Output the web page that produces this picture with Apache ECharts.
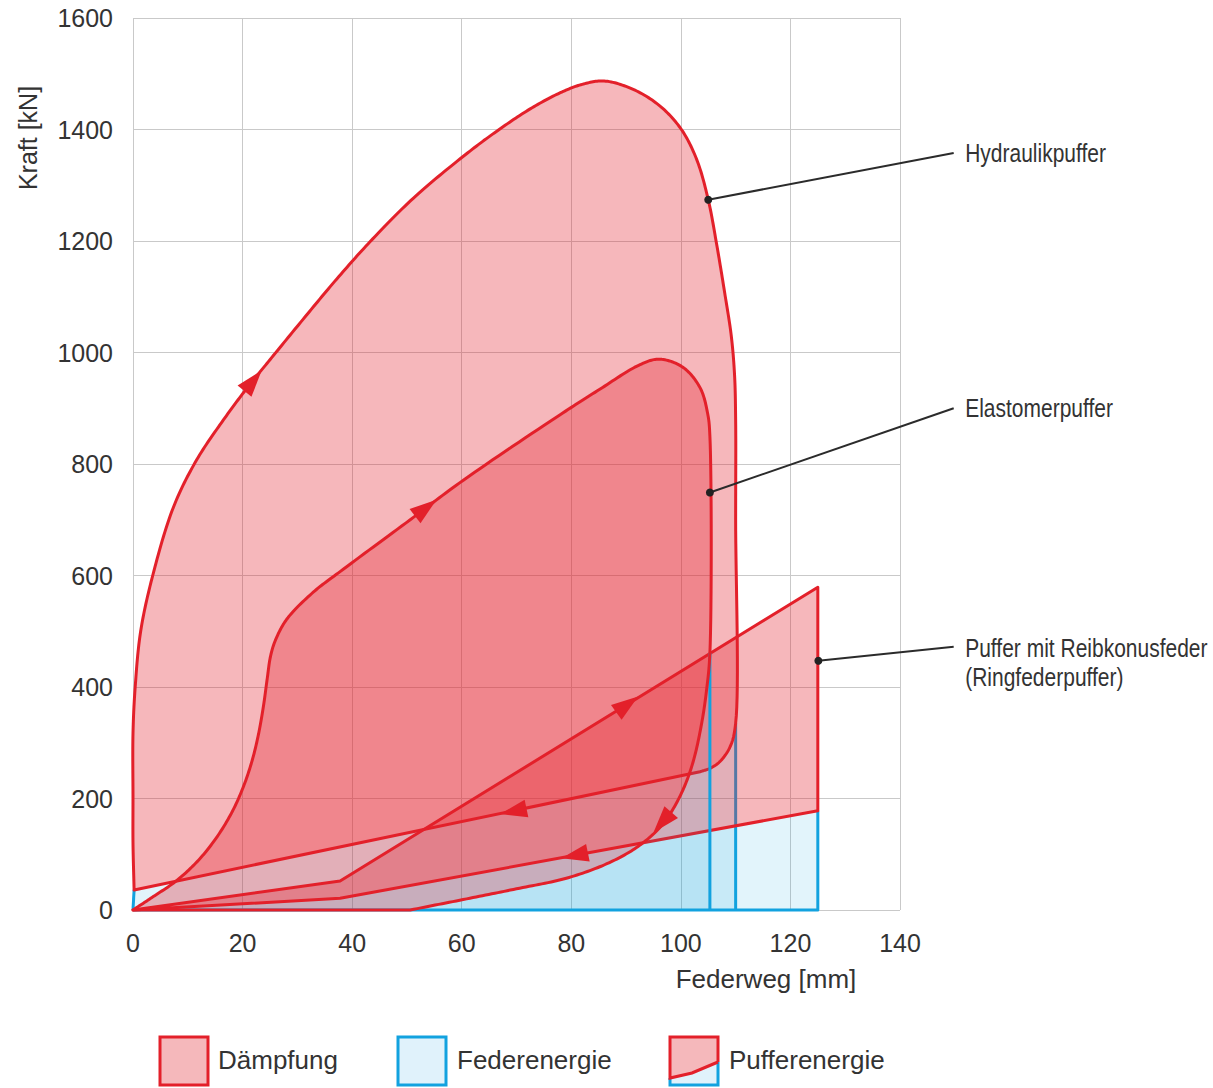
<!DOCTYPE html>
<html><head><meta charset="utf-8">
<script src="https://cdn.jsdelivr.net/npm/echarts@6/dist/echarts.min.js"></script>
<style>html,body{margin:0;padding:0;background:#fff}#c{width:1213px;height:1088px}</style>
</head><body><div id="c"></div>
<script>
// ---------- data (Federweg [mm], Kraft [kN]) ----------
const xTicks = [0, 20, 40, 60, 80, 100, 120, 140];
const yTicks = [0, 200, 400, 600, 800, 1000, 1200, 1400, 1600];

// Hydraulikpuffer: loading curve + right side
const hydLoad = [[0.2,36],[0,120],[0,201],[0,317],[0.4,400],[1.4,500],[3.6,600],[7.4,723],[11.6,807],[16.5,879],[20.8,936],[25,987],[31,1059],[37.2,1132],[43.3,1199],[51.2,1277],[60.3,1352],[66.4,1397],[72.5,1437],[78,1466],[82,1481],[86,1487],[91.3,1472],[96.2,1442],[100.1,1400],[102.9,1346],[105,1274],[106.5,1196],[108,1107],[109.2,1030],[109.8,960],[110,880],[110,700]];
// lower right corner of the hydraulic loop (from the unloading line up to the vertical)
const hydCorner = [[103.5,248],[105.3,254],[107.1,266],[109,293],[110,335]];
const hydBase = [[110,0],[0,0]];

// Elastomerpuffer
const elaLoad = [[0,0],[3.7,24],[8,53],[12.2,92],[15.6,135],[18.3,180],[20.3,225],[21.8,270],[22.9,315],[23.8,365],[24.5,415],[25.1,455],[26,484],[28.1,522],[32.9,570],[37.8,607],[50.6,700],[60.3,771],[77.9,888],[85.2,934],[92.3,977],[96,988],[100.3,974],[103.5,937],[104.9,890],[105.3,850]];
const elaUnload = [[105.3,461],[104.7,395],[103.8,335],[102.3,268],[100.5,218],[98.2,175],[96,146],[91.9,112],[86.5,83],[79.1,57],[70,38],[60.9,20],[50.6,0]];
const elaBase = [[0,0],[105.3,0]];

// Puffer mit Reibkonusfeder (Ringfederpuffer)
const ringLoad = [[0,0],[37.8,52],[125,579]];
const ringUnload = [[125,178],[37.8,21],[0,0]];
const ringBase = [[125,0]];

// direction arrows: [tipX, tipY, tailX, tailY]
const arrows = [[23.5,968,20.8,936],[55.4,736,50.6,700],[92.2,383,88,353],[78.2,93,82.7,102],[67,172,72.8,184],[95,139,98.2,175]];

// annotations
const annDots = [[105,1274],[105.3,749],[125.1,447]];
const annEnds = [[149.8,1358],[149.8,900],[149.8,472]];
const labelTexts = ['Hydraulikpuffer','Elastomerpuffer','Puffer mit Reibkonusfeder','(Ringfederpuffer)'];
const labelPos = [[151.9,1358],[151.9,900],[151.9,470],[151.9,418]];

const legendNames = ['Dämpfung','Federenergie','Pufferenergie'];

// ---------- styles ----------
const RED = '#e3202a', BLUE = '#12a2df';
const PINK_FILL = 'rgba(227,32,42,0.32)';
const BLUE_FILL = 'rgba(14,165,224,0.12)';
const BLUE_FILL2 = 'rgba(14,165,224,0.09)';
const FONT = '"Liberation Sans", Arial, sans-serif';
const TXT = '#333333';

// centripetal Catmull-Rom through pixel points
function spline(px) {
  const n = px.length; if (n < 3) return px.slice();
  const d = (a, b) => Math.sqrt(Math.hypot(b[0]-a[0], b[1]-a[1]));
  const out = [px[0]];
  for (let i = 0; i < n - 1; i++) {
    const P1 = px[i], P2 = px[i+1], P0 = i > 0 ? px[i-1] : null, P3 = i + 2 < n ? px[i+2] : null;
    const d2 = d(P1, P2); let B1 = null, B2 = null;
    if (P0) { const d1 = d(P0, P1); if (d1 > 1e-6 && d2 > 1e-6) B1 = [0,1].map(k => (d1*d1*P2[k] - d2*d2*P0[k] + (2*d1*d1 + 3*d1*d2 + d2*d2)*P1[k]) / (3*d1*(d1+d2))); }
    if (!B1) B1 = [P1[0] + (P2[0]-P1[0])/3, P1[1] + (P2[1]-P1[1])/3];
    if (P3) { const d3 = d(P2, P3); if (d3 > 1e-6 && d2 > 1e-6) B2 = [0,1].map(k => (d3*d3*P1[k] - d2*d2*P3[k] + (2*d3*d3 + 3*d3*d2 + d2*d2)*P2[k]) / (3*d3*(d3+d2))); }
    if (!B2) B2 = [P2[0] + (P1[0]-P2[0])/3, P2[1] + (P1[1]-P2[1])/3];
    for (let s = 1; s <= 16; s++) { const t = s/16, u = 1-t;
      out.push([0,1].map(k => u*u*u*P1[k] + 3*u*u*t*B1[k] + 3*u*t*t*B2[k] + t*t*t*P2[k])); }
  }
  return out;
}
function build(api, pieces) {
  let out = [];
  pieces.forEach(pc => {
    let px = pc.pts.map(p => api.coord(p));
    if (pc.smooth) px = spline(px);
    if (out.length && px.length) { const l = out[out.length-1];
      if (Math.hypot(l[0]-px[0][0], l[1]-px[0][1]) < 0.01) px = px.slice(1); }
    out = out.concat(px);
  });
  return out;
}
function shapeSeries(z, data, groups, closed, style) {
  return { type: 'custom', coordinateSystem: 'cartesian2d', z: z, silent: true, clip: false,
    data: data, encode: { x: 0, y: 1 },
    renderItem: function (params, api) {
      if (params.dataIndex !== 0) return null;
      return { type: 'group', children: groups.map(pieces => ({
        type: closed ? 'polygon' : 'polyline', shape: { points: build(api, pieces) }, style: style })) };
    } };
}
const rev = a => a.slice().reverse();
const fillStyle = c => ({ fill: c, stroke: 'none', lineWidth: 0 });
const strokeStyle = (c, w) => ({ fill: 'none', stroke: c, lineWidth: w, lineJoin: 'round', lineCap: 'butt' });

const hydLoop = [{ pts: hydLoad.concat(rev(hydCorner)), smooth: true }, { pts: [hydCorner[0], hydLoad[0]], smooth: false }];
const hydSpring = [{ pts: [hydBase[1], hydLoad[0], hydCorner[0]], smooth: false }, { pts: hydCorner, smooth: true }, { pts: [hydBase[0]], smooth: false }];
const elaLoop = [{ pts: elaLoad.concat(elaUnload), smooth: true }, { pts: [elaBase[0]], smooth: false }];
const elaSpring = [{ pts: rev(elaUnload), smooth: true }, { pts: [elaBase[1]], smooth: false }];
const ringLoop = [{ pts: ringLoad.concat(ringUnload), smooth: false }];
const ringSpring = [{ pts: rev(ringUnload).concat(ringBase), smooth: false }];

const series = [
  shapeSeries(2, hydLoad, [hydLoop], true, fillStyle(PINK_FILL)),
  shapeSeries(3, hydCorner, [hydSpring], true, fillStyle(BLUE_FILL)),
  shapeSeries(4, hydBase, [[{ pts: [hydBase[1], hydLoad[0]] }], [{ pts: [hydBase[0], hydCorner[hydCorner.length-1]] }]], false, strokeStyle(BLUE, 3)),
  shapeSeries(5, elaLoad, [elaLoop], true, fillStyle(PINK_FILL)),
  shapeSeries(6, ringLoad, [ringLoop], true, fillStyle(PINK_FILL)),
  shapeSeries(7, ringUnload, [ringSpring], true, fillStyle(BLUE_FILL)),
  shapeSeries(8, ringBase, [[{ pts: [ringLoad[0], ringBase[0], ringUnload[0]] }]], false, strokeStyle(BLUE, 3)),
  shapeSeries(9, hydLoad, [hydLoop], true, strokeStyle(RED, 3)),
  shapeSeries(10, ringLoad, [ringLoop], true, strokeStyle(RED, 3)),
  shapeSeries(11, elaUnload, [elaSpring], true, fillStyle(BLUE_FILL2)),
  shapeSeries(12, elaBase, [[{ pts: [elaBase[1], elaUnload[0]] }]], false, strokeStyle(BLUE, 3)),
  shapeSeries(13, elaLoad, [elaLoop], true, strokeStyle(RED, 3)),
  { type: 'custom', coordinateSystem: 'cartesian2d', z: 14, silent: true, clip: false,
    data: arrows, encode: { x: 0, y: 1 },
    renderItem: function (params, api) {
      const a = arrows[params.dataIndex];
      const tip = api.coord([a[0], a[1]]), tail = api.coord([a[2], a[3]]);
      let dx = tip[0]-tail[0], dy = tip[1]-tail[1]; const L = Math.hypot(dx, dy); dx /= L; dy /= L;
      const len = 27, hw = 9;
      const bx = tip[0]-dx*len, by = tip[1]-dy*len;
      return { type: 'polygon', shape: { points: [tip, [bx - dy*hw, by + dx*hw], [bx + dy*hw, by - dx*hw]] },
        style: { fill: RED, stroke: 'none' } };
    } },
  { type: 'custom', coordinateSystem: 'cartesian2d', z: 15, silent: true, clip: false,
    data: annDots, encode: { x: 0, y: 1 },
    renderItem: function (params, api) {
      const i = params.dataIndex;
      const p = api.coord(annDots[i]), e = api.coord(annEnds[i]);
      const children = [
        { type: 'line', shape: { x1: p[0], y1: p[1], x2: e[0], y2: e[1] }, style: { stroke: '#2b2b2b', lineWidth: 2 } },
        { type: 'circle', shape: { cx: p[0], cy: p[1], r: 4 }, style: { fill: '#222' } }
      ];
      if (i === 0) {
        labelTexts.forEach((t, k) => {
          const q = api.coord(labelPos[k]);
          children.push({ type: 'text', x: q[0], y: q[1], scaleX: 0.84, scaleY: 1,
            style: { text: t, fill: TXT, fontSize: 25, fontFamily: FONT, align: 'left', verticalAlign: 'middle' } });
        });
      }
      return { type: 'group', children };
    } }
];

// ---------- legend and axis titles ----------
const graphic = [
  { type: 'text', x: 766, y: 979, style: { text: 'Federweg [mm]', fill: TXT, fontSize: 26, fontFamily: FONT, align: 'center', verticalAlign: 'middle' } },
  { type: 'text', x: 28, y: 138, rotation: Math.PI/2, style: { text: 'Kraft [kN]', fill: TXT, fontSize: 25, fontFamily: FONT, align: 'center', verticalAlign: 'middle' } },
  { type: 'rect', shape: { x: 160, y: 1037, width: 48, height: 48 }, style: { fill: '#f5b8bb', stroke: RED, lineWidth: 3 } },
  { type: 'text', x: 218, y: 1060, style: { text: legendNames[0], fill: TXT, fontSize: 26, fontFamily: FONT, align: 'left', verticalAlign: 'middle' } },
  { type: 'rect', shape: { x: 398, y: 1037, width: 48, height: 48 }, style: { fill: '#e0f2fb', stroke: BLUE, lineWidth: 3 } },
  { type: 'text', x: 457, y: 1060, style: { text: legendNames[1], fill: TXT, fontSize: 26, fontFamily: FONT, align: 'left', verticalAlign: 'middle' } },
  { type: 'polygon', shape: { points: [[670,1037],[718,1037],[718,1062],[692,1073],[670,1078]] }, style: { fill: '#f5b8bb' } },
  { type: 'polygon', shape: { points: [[670,1078],[692,1073],[718,1062],[718,1085],[670,1085]] }, style: { fill: '#e0f2fb' } },
  { type: 'polyline', shape: { points: [[670,1078],[670,1085],[718,1085],[718,1062]] }, style: { stroke: BLUE, lineWidth: 3, fill: 'none' } },
  { type: 'polyline', shape: { points: [[718,1062],[718,1037],[670,1037],[670,1078],[692,1073],[718,1062]] }, style: { stroke: RED, lineWidth: 3, fill: 'none', lineJoin: 'miter' } },
  { type: 'text', x: 729, y: 1060, style: { text: legendNames[2], fill: TXT, fontSize: 26, fontFamily: FONT, align: 'left', verticalAlign: 'middle' } }
];

const chart = echarts.init(document.getElementById('c'), null, { renderer: 'svg' });
chart.setOption({
  animation: false,
  backgroundColor: '#ffffff',
  grid: { left: 133, right: 313, top: 18, bottom: 178, containLabel: false },
  xAxis: { type: 'value', min: xTicks[0], max: xTicks[xTicks.length-1], interval: xTicks[1]-xTicks[0],
    axisLine: { show: false }, axisTick: { show: false },
    axisLabel: { fontSize: 25, color: TXT, fontFamily: FONT, margin: 20, formatter: v => String(v) },
    splitLine: { show: true, lineStyle: { color: '#c9c9c9', width: 1 } } },
  yAxis: { type: 'value', min: yTicks[0], max: yTicks[yTicks.length-1], interval: yTicks[1]-yTicks[0],
    axisLine: { show: false }, axisTick: { show: false },
    axisLabel: { fontSize: 25, color: TXT, fontFamily: FONT, margin: 20, formatter: v => String(v) },
    splitLine: { show: true, lineStyle: { color: '#c9c9c9', width: 1 } } },
  graphic: graphic,
  series: series
});
</script></body></html>
